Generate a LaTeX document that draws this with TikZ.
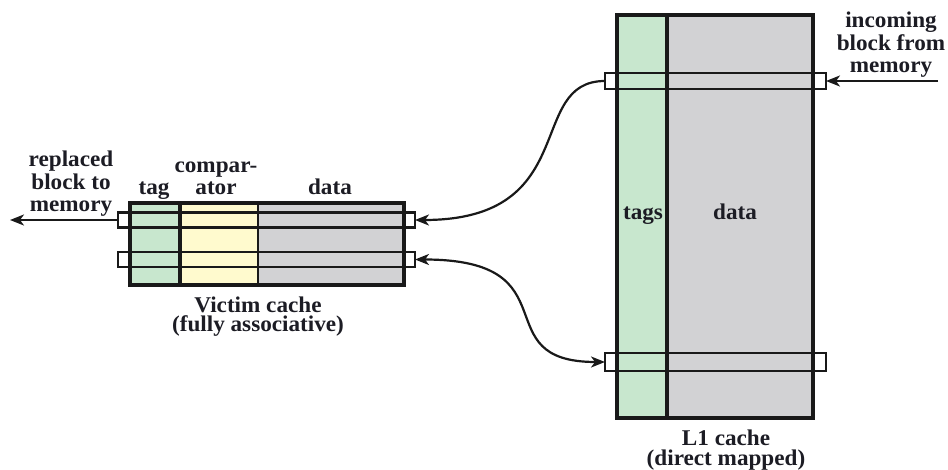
\documentclass[tikz,border=0pt]{standalone}
\usepackage{fontspec}
\setmainfont{Liberation Serif}[FakeStretch=1.03]
\usetikzlibrary{arrows.meta}
\definecolor{tagg}{RGB}{200,231,206}
\definecolor{cmpy}{RGB}{255,250,206}
\definecolor{datg}{RGB}{210,210,212}
\definecolor{ink}{RGB}{28,28,36}
\tikzset{
  lbl/.style={anchor=base,inner sep=0pt,text=ink,font=\bfseries\fontsize{22.5}{22.5}\selectfont,align=center},
  captxt/.style={lbl,font=\bfseries\fontsize{22.5}{19.5}\selectfont},
  boxline/.style={line width=3.6pt,draw=black!90},
  barbox/.style={draw=black!90,line width=2.6pt,inner sep=0pt,outer sep=0pt,rectangle},
  tip/.style={-{Stealth[length=14pt,width=11pt,inset=4pt]}},
  conn/.style={line width=2.2pt,draw=black!90},
}
\begin{document}
\begin{tikzpicture}[x=1pt,y=-1pt]
\useasboundingbox[fill=white] (0,0) rectangle (948,470);
% victim cache
\fill[tagg] (130,203) rectangle (180,285);
\fill[cmpy] (180,203) rectangle (258,285);
\fill[datg] (258,203) rectangle (404,285);
\node[boxline,draw,inner sep=0pt,outer sep=0pt,minimum width=274pt,minimum height=82pt] (victim) at (267,244) {};
\draw[boxline] (180,203) -- (180,285);
\draw[line width=2.2pt,draw=black!90] (258,203) -- (258,285);
\node[barbox,minimum width=297pt,minimum height=14.5pt] (vbar1) at (266.5,220) {};
\node[barbox,minimum width=297pt,minimum height=15pt] (vbar2) at (266.5,259.5) {};
% L1 cache
\fill[tagg] (617,15) rectangle (667,418);
\fill[datg] (667,15) rectangle (813,418);
\node[boxline,draw,inner sep=0pt,outer sep=0pt,minimum width=196pt,minimum height=403pt] (l1) at (715,216.5) {};
\draw[boxline] (667,15) -- (667,418);
\node[barbox,minimum width=221pt,minimum height=16pt] (l1bar1) at (715.5,81) {};
\node[barbox,minimum width=221pt,minimum height=18pt] (l1bar2) at (715.5,362) {};
% free ends
\coordinate (outL) at (10,220);
\coordinate (inR) at (938,81);
% connectors
\draw[conn,tip] (vbar1.west) -- (outL);
\draw[conn,tip] (inR) -- (l1bar1.east);
\draw[conn,tip] (l1bar1.west) .. controls +(-80,0) and +(168,0) .. (vbar1.east);
\draw[conn,{Stealth[length=14pt,width=11pt,inset=4pt]}-{Stealth[length=14pt,width=11pt,inset=4pt]}] (vbar2.east) .. controls +(160,0) and +(-123,0) .. (l1bar2.west);
% labels
\node[lbl] (rep) at (71,212) {replaced\\block to\\memory};
\node[lbl] (tagl) at (154,195) {tag};
\node[lbl] (comp) at (216,195) {compar-\\ator};
\node[lbl] (vdata) at (330,195) {data};
\node[captxt] (vcap) at (258,332) {Victim cache\\(fully associative)};
\node[lbl] (tagsl) at (643,220) {tags};
\node[lbl] (ldata) at (735,220) {data};
\node[lbl] (inc) at (891,73) {incoming\\block from\\memory};
\node[captxt] (lcap) at (726,465) {L1 cache\\(direct mapped)};
\end{tikzpicture}
\end{document}
